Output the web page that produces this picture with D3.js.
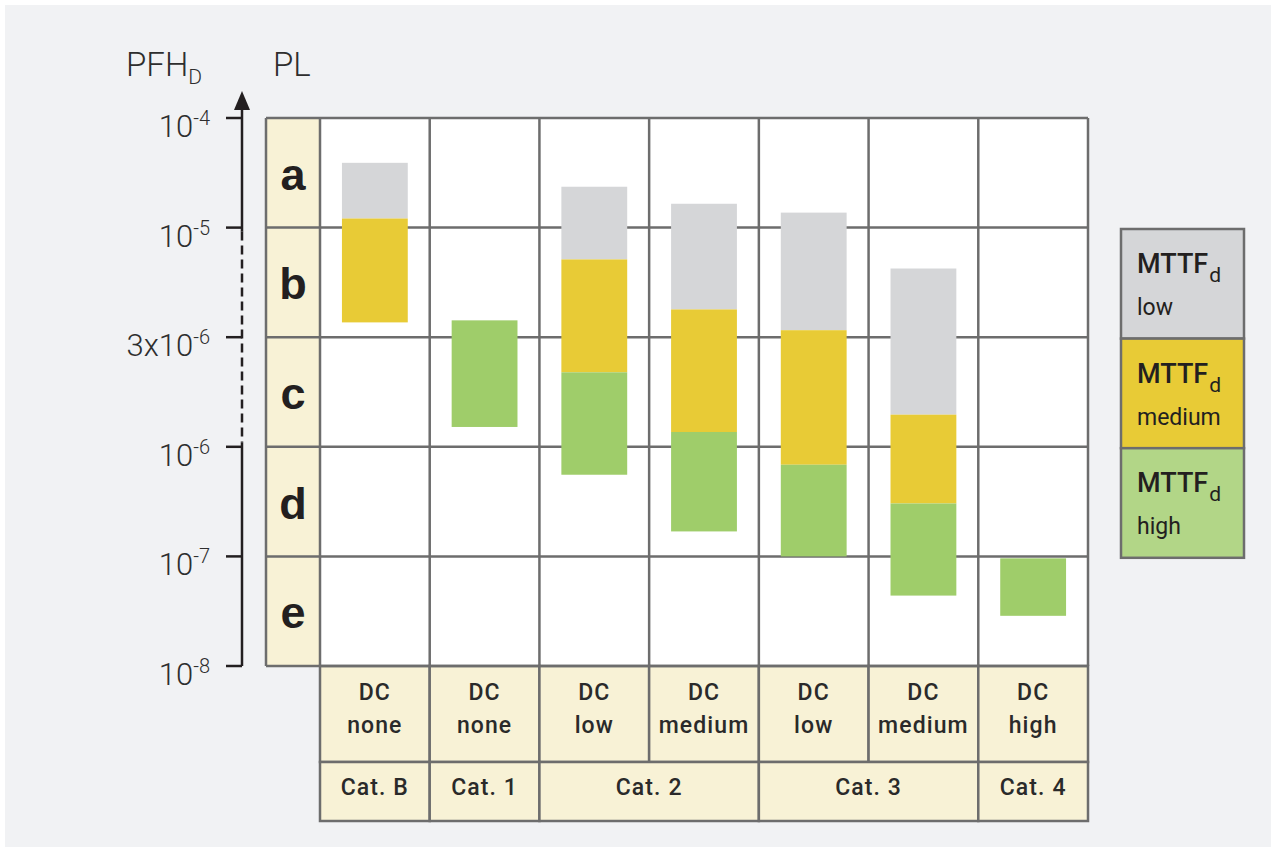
<!DOCTYPE html>
<html><head><meta charset="utf-8">
<script src="https://cdn.jsdelivr.net/npm/d3@7"></script>
<style>body{margin:0;background:#fff}svg{display:block}</style>
</head><body><svg id="c" width="1276" height="852"></svg>
<script>
// ---- data ----
const plLevels = ["a", "b", "c", "d", "e"];
const yTicks = [1e-4, 1e-5, 3e-6, 1e-6, 1e-7, 1e-8];
const yTickBase = ["10", "10", "3x10", "10", "10", "10"];
const yTickExp = ["-4", "-5", "-6", "-6", "-7", "-8"];
const dcLabels = ["none", "none", "low", "medium", "low", "medium", "high"];
const catLabels = ["Cat. B", "Cat. 1", "Cat. 2", "Cat. 3", "Cat. 4"];
const catSpans = [1, 1, 2, 2, 1];
// PFHd ranges [upper, lower] per column
const mttfLow    = [[3.9e-5, 1.21e-5], null, [2.36e-5, 7.05e-6], [1.65e-5, 4.07e-6], [1.37e-5, 3.24e-6], [6.38e-6, 1.38e-6], null];
const mttfMedium = [[1.21e-5, 3.53e-6], null, [7.05e-6, 2.11e-6], [4.07e-6, 1.16e-6], [3.24e-6, 6.86e-7], [1.38e-6, 3.04e-7], null];
const mttfHigh   = [null, [3.61e-6, 1.22e-6], [2.11e-6, 5.56e-7], [1.16e-6, 1.69e-7], [6.86e-7, 1.0e-7], [3.04e-7, 4.39e-8], [9.6e-8, 2.87e-8]];
const legendMain = ["MTTF", "MTTF", "MTTF"];
const legendSub = ["low", "medium", "high"];

// ---- layout ----
const W = 1276, H = 852;
const plotTop = 118, bandH = 109.6, plLeft = 266, colLeft = 320, colRight = 1088;
const plotBottom = plotTop + bandH * 5;
const dcRowH = 96, catRowH = 59;
const gridColor = "#6d6d6d", gridW = 2.5;
const cream = "#f8f2d6";
const colors = {low: "#d5d6d8", medium: "#e8cb36", high: "#9fcd6a", highLegend: "#b2d687"};
const textColor = "#231f20";
const font = "'Liberation Sans', Arial, Helvetica, sans-serif";
const fontR = "Roboto, 'Liberation Sans', sans-serif";

const svg = d3.select("#c");
svg.append("rect").attr("x", 5).attr("y", 5).attr("width", W - 10).attr("height", H - 10).attr("fill", "#f1f2f4");

const logTicks = yTicks.map(Math.log10);
const yL = d3.scaleLinear().domain(logTicks).range(d3.range(6).map(i => plotTop + i * bandH));
const y = v => yL(Math.log10(v));
const x = d3.scaleBand().domain(d3.range(7)).range([colLeft, colRight]);
const bw = x.bandwidth();

// plot area
svg.append("rect").attr("x", colLeft).attr("y", plotTop).attr("width", colRight - colLeft).attr("height", plotBottom - plotTop).attr("fill", "#fff");
svg.append("rect").attr("x", plLeft).attr("y", plotTop).attr("width", colLeft - plLeft).attr("height", plotBottom - plotTop).attr("fill", cream);

// DC and category rows
const gBottom = svg.append("g");
gBottom.selectAll("rect.dc").data(dcLabels).join("rect").attr("class", "dc")
  .attr("x", (d, i) => x(i)).attr("y", plotBottom).attr("width", bw).attr("height", dcRowH)
  .attr("fill", cream).attr("stroke", gridColor).attr("stroke-width", gridW);
let start = 0;
const catData = catLabels.map((c, i) => { const o = {label: c, start, span: catSpans[i]}; start += catSpans[i]; return o; });
gBottom.selectAll("rect.cat").data(catData).join("rect").attr("class", "cat")
  .attr("x", d => x(d.start)).attr("y", plotBottom + dcRowH).attr("width", d => bw * d.span).attr("height", catRowH)
  .attr("fill", cream).attr("stroke", gridColor).attr("stroke-width", gridW);
const labStyle = s => s.attr("font-family", fontR).attr("font-size", 23).attr("font-weight", 500).attr("fill", "#2a2a2a").attr("text-anchor", "middle").attr("letter-spacing", 1.1);
gBottom.selectAll("text.dc1").data(dcLabels).join("text").attr("class", "dc1")
  .attr("x", (d, i) => x(i) + bw / 2).attr("y", plotBottom + 34).text("DC").call(labStyle);
gBottom.selectAll("text.dc2").data(dcLabels).join("text").attr("class", "dc2")
  .attr("x", (d, i) => x(i) + bw / 2).attr("y", plotBottom + 67).text(d => d).call(labStyle);
gBottom.selectAll("text.cat").data(catData).join("text").attr("class", "cat")
  .attr("x", d => x(d.start) + bw * d.span / 2).attr("y", plotBottom + dcRowH + 33).text(d => d.label).call(labStyle);

// grid
const grid = svg.append("g").attr("stroke", gridColor).attr("stroke-width", gridW);
grid.selectAll("line.h").data(yTicks).join("line").attr("class", "h")
  .attr("x1", plLeft).attr("x2", colRight).attr("y1", d => y(d)).attr("y2", d => y(d));
grid.selectAll("line.v").data(d3.range(8)).join("line").attr("class", "v")
  .attr("x1", i => i < 7 ? x(i) : colRight).attr("x2", i => i < 7 ? x(i) : colRight)
  .attr("y1", plotTop).attr("y2", plotBottom);
grid.append("line").attr("x1", plLeft).attr("x2", plLeft).attr("y1", plotTop).attr("y2", plotBottom);

// bars
const series = [["low", mttfLow], ["medium", mttfMedium], ["high", mttfHigh]];
series.forEach(([k, arr]) => {
  svg.append("g").selectAll("rect").data(arr.map((d, i) => ({d, i})).filter(o => o.d)).join("rect")
    .attr("x", o => x(o.i) + bw * 0.2).attr("width", bw * 0.6)
    .attr("y", o => y(o.d[0])).attr("height", o => y(o.d[1]) - y(o.d[0]))
    .attr("fill", colors[k]);
});

// PL letters
svg.append("g").selectAll("text").data(plLevels).join("text")
  .attr("x", (plLeft + colLeft) / 2).attr("y", (d, i) => (yL(logTicks[i]) + yL(logTicks[i + 1])) / 2 + 17)
  .attr("text-anchor", "middle").attr("font-family", font).attr("font-weight", 700).attr("font-size", 45)
  .attr("fill", textColor).text(d => d);

// Y axis
const axX = 242;
const ax = svg.append("g").attr("stroke", "#231f20").attr("stroke-width", 2.5);
ax.append("line").attr("x1", axX).attr("x2", axX).attr("y1", 104).attr("y2", y(1e-5) + 4);
ax.append("line").attr("x1", axX).attr("x2", axX).attr("y1", y(1e-5) + 4).attr("y2", y(1e-6) - 4).attr("stroke-dasharray", "9,5");
ax.append("line").attr("x1", axX).attr("x2", axX).attr("y1", y(1e-6) - 4).attr("y2", y(1e-8));
ax.selectAll("line.t").data(yTicks).join("line").attr("class", "t")
  .attr("x1", axX - 16).attr("x2", axX).attr("y1", d => y(d)).attr("y2", d => y(d));
svg.append("path").attr("d", `M${axX},91 L${axX - 8},110 L${axX + 8},110 Z`).attr("fill", "#231f20");

const tl = svg.append("g").selectAll("text").data(yTicks).join("text")
  .attr("x", 210).attr("y", d => y(d) + 19).attr("text-anchor", "end")
  .attr("font-family", fontR).attr("font-weight", 300).attr("font-size", 31).attr("fill", "#2e2e2e");
tl.append("tspan").text((d, i) => yTickBase[i]);
tl.append("tspan").attr("font-size", 20).attr("dy", -12).text((d, i) => yTickExp[i]);

// axis titles
const t1 = svg.append("text").attr("x", 126).attr("y", 76).attr("font-family", fontR)
  .attr("font-weight", 300).attr("font-size", 33).attr("fill", "#2e2e2e");
t1.append("tspan").text("PFH");
t1.append("tspan").attr("font-size", 21).attr("dy", 8).text("D");
svg.append("text").attr("x", 273).attr("y", 76).attr("font-family", fontR)
  .attr("font-weight", 300).attr("font-size", 33).attr("fill", "#2e2e2e").text("PL");

// legend
const lgX = 1121, lgY = 229, lgW = 123, lgH = 109.6;
const lgColors = [colors.low, colors.medium, colors.highLegend];
const lg = svg.append("g");
lg.selectAll("rect").data(legendSub).join("rect")
  .attr("x", lgX).attr("y", (d, i) => lgY + i * lgH).attr("width", lgW).attr("height", lgH)
  .attr("fill", (d, i) => lgColors[i]).attr("stroke", gridColor).attr("stroke-width", gridW);
const lt = lg.selectAll("text.m").data(legendMain).join("text").attr("class", "m")
  .attr("x", lgX + 16).attr("y", (d, i) => lgY + i * lgH + 44)
  .attr("font-family", fontR).attr("font-weight", 500).attr("font-size", 27).attr("fill", textColor);
lt.append("tspan").text(d => d);
lt.append("tspan").attr("font-size", 21).attr("dy", 9).attr("dx", 1).attr("font-weight", 400).text("d");
lg.selectAll("text.s").data(legendSub).join("text").attr("class", "s")
  .attr("x", lgX + 16).attr("y", (d, i) => lgY + i * lgH + 86)
  .attr("font-family", fontR).attr("font-weight", 400).attr("font-size", 23).attr("fill", textColor).text(d => d);
</script></body></html>
